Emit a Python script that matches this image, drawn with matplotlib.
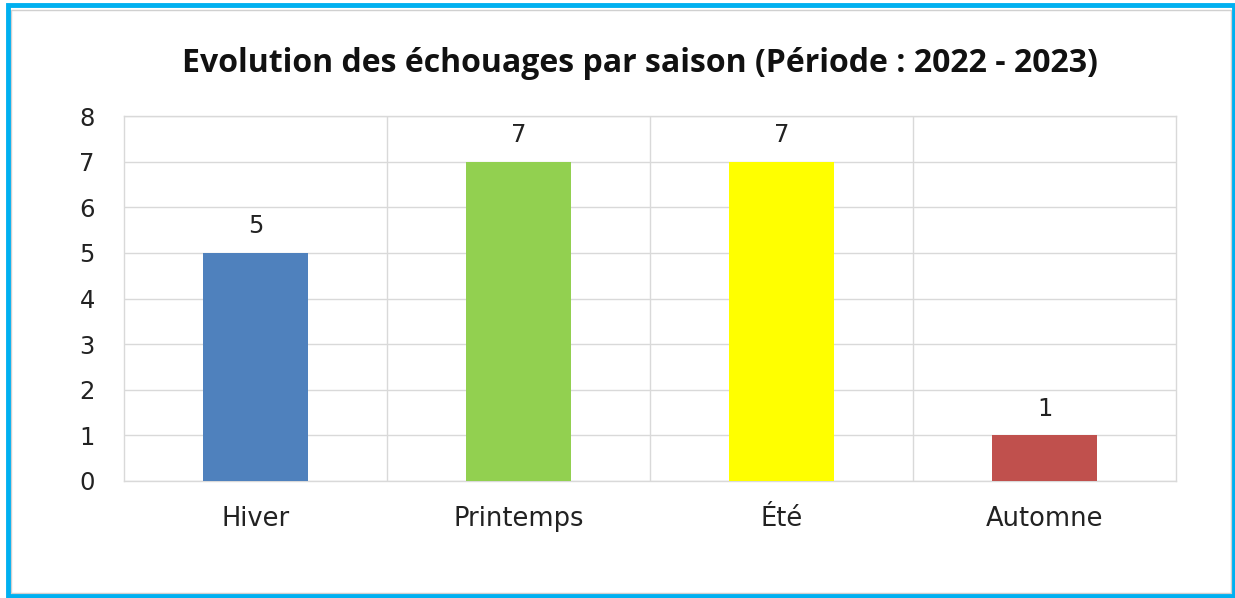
import matplotlib.pyplot as plt
from matplotlib.patches import Rectangle

seasons = ['Hiver', 'Printemps', 'Été', 'Automne']
counts = [5, 7, 7, 1]
bar_colors = ['#4f81bd', '#92d050', '#ffff00', '#c0504d']

plt.rcParams['font.family'] = ['DejaVu Sans']

fig = plt.figure(figsize=(12.35, 5.98), dpi=100)
ax = fig.add_axes([124 / 1235, 1 - 481 / 598, (1176 - 124) / 1235, (481 - 116) / 598])

x = range(len(seasons))
bars = ax.bar(x, counts, width=0.4, color=bar_colors, zorder=3)
for xi, v in zip(x, counts):
    ax.text(xi, v + 0.58, str(v), ha='center', va='center', fontsize=17.5, color='#222222')

ax.set_xlim(-0.5, len(seasons) - 0.5)
ax.set_ylim(0, 8)
ax.set_yticks(range(0, 9))
ax.set_xticks(list(x))
ax.set_xticklabels(seasons)
ax.tick_params(axis='y', length=0, labelsize=17.5, colors='#222222', pad=21)
ax.tick_params(axis='x', length=0, labelsize=18.5, colors='#222222', pad=18)

# grid: horizontal at each integer, vertical between categories
ax.set_xticks([i + 0.5 for i in range(len(seasons) - 1)], minor=True)
ax.grid(axis='y', color='#d9d9d9', lw=1, zorder=0)
ax.grid(axis='x', which='minor', color='#d9d9d9', lw=1, zorder=0)
ax.tick_params(axis='x', which='minor', length=0)
for s in ax.spines.values():
    s.set_color('#d9d9d9')
    s.set_linewidth(1)

fig.text(640 / 1235, 1 - 63 / 598, 'Evolution des échouages par saison (Période : 2022 - 2023)',
         ha='center', va='center', fontsize=23, fontweight='bold', color='#111111',
         family=['Open Sans', 'DejaVu Sans'])

# frame around the chart
fig.patches.append(Rectangle((11 / 1235, 1 - 593 / 598), 1220 / 1235, 583 / 598,
                             transform=fig.transFigure, fill=False, ec='#d0d0d0', lw=1))
fig.patches.append(Rectangle((8 / 1235, 1 - 596 / 598), 1226 / 1235, 591 / 598,
                             transform=fig.transFigure, fill=False, ec='#00b0f0', lw=3.5))

fig.savefig('out.png', dpi=100)
